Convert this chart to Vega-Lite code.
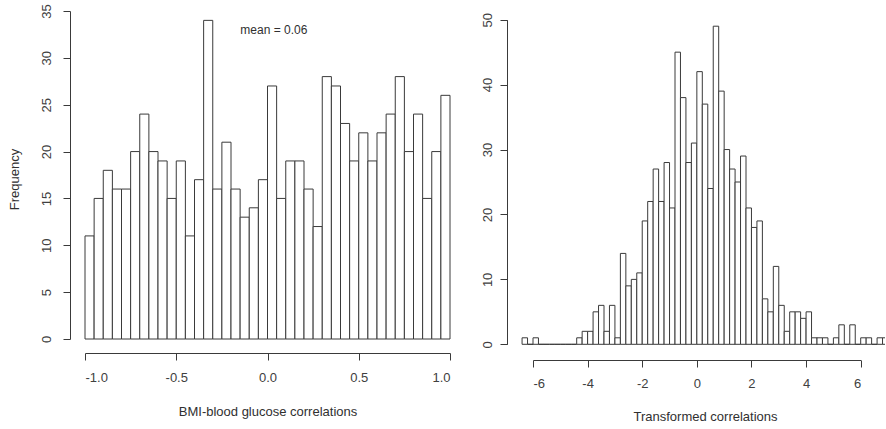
{
  "$schema": "https://vega.github.io/schema/vega-lite/v6.json",
  "usermeta": {"embedOptions": {"actions": false}},
  "padding": {"left": 8, "top": 3, "right": 0, "bottom": 0},
  "background": "white",
  "config": {
    "view": {"stroke": null},
    "font": "Liberation Sans",
    "axis": {
      "grid": false,
      "domainColor": "#3a3a3a",
      "tickColor": "#3a3a3a",
      "tickSize": 7,
      "labelColor": "#404040",
      "labelFont": "Liberation Sans",
      "labelFontSize": 13,
      "titleColor": "#303030",
      "titleFont": "Liberation Sans",
      "titleFontSize": 13,
      "titleFontWeight": "normal"
    }
  },
  "datasets": {
    "corr": [
      {"bin_start": -1.00, "bin_end": -0.95, "count": 11},
      {"bin_start": -0.95, "bin_end": -0.90, "count": 15},
      {"bin_start": -0.90, "bin_end": -0.85, "count": 18},
      {"bin_start": -0.85, "bin_end": -0.80, "count": 16},
      {"bin_start": -0.80, "bin_end": -0.75, "count": 16},
      {"bin_start": -0.75, "bin_end": -0.70, "count": 20},
      {"bin_start": -0.70, "bin_end": -0.65, "count": 24},
      {"bin_start": -0.65, "bin_end": -0.60, "count": 20},
      {"bin_start": -0.60, "bin_end": -0.55, "count": 19},
      {"bin_start": -0.55, "bin_end": -0.50, "count": 15},
      {"bin_start": -0.50, "bin_end": -0.45, "count": 19},
      {"bin_start": -0.45, "bin_end": -0.40, "count": 11},
      {"bin_start": -0.40, "bin_end": -0.35, "count": 17},
      {"bin_start": -0.35, "bin_end": -0.30, "count": 34},
      {"bin_start": -0.30, "bin_end": -0.25, "count": 16},
      {"bin_start": -0.25, "bin_end": -0.20, "count": 21},
      {"bin_start": -0.20, "bin_end": -0.15, "count": 16},
      {"bin_start": -0.15, "bin_end": -0.10, "count": 13},
      {"bin_start": -0.10, "bin_end": -0.05, "count": 14},
      {"bin_start": -0.05, "bin_end": 0.00, "count": 17},
      {"bin_start": 0.00, "bin_end": 0.05, "count": 27},
      {"bin_start": 0.05, "bin_end": 0.10, "count": 15},
      {"bin_start": 0.10, "bin_end": 0.15, "count": 19},
      {"bin_start": 0.15, "bin_end": 0.20, "count": 19},
      {"bin_start": 0.20, "bin_end": 0.25, "count": 16},
      {"bin_start": 0.25, "bin_end": 0.30, "count": 12},
      {"bin_start": 0.30, "bin_end": 0.35, "count": 28},
      {"bin_start": 0.35, "bin_end": 0.40, "count": 27},
      {"bin_start": 0.40, "bin_end": 0.45, "count": 23},
      {"bin_start": 0.45, "bin_end": 0.50, "count": 19},
      {"bin_start": 0.50, "bin_end": 0.55, "count": 22},
      {"bin_start": 0.55, "bin_end": 0.60, "count": 19},
      {"bin_start": 0.60, "bin_end": 0.65, "count": 22},
      {"bin_start": 0.65, "bin_end": 0.70, "count": 24},
      {"bin_start": 0.70, "bin_end": 0.75, "count": 28},
      {"bin_start": 0.75, "bin_end": 0.80, "count": 20},
      {"bin_start": 0.80, "bin_end": 0.85, "count": 24},
      {"bin_start": 0.85, "bin_end": 0.90, "count": 15},
      {"bin_start": 0.90, "bin_end": 0.95, "count": 20},
      {"bin_start": 0.95, "bin_end": 1.00, "count": 26}
    ],
    "note": [
      {"x": 0.035, "y": 33, "label": "mean = 0.06"}
    ],
    "transformed": [
      {"bin_start": -6.4, "bin_end": -6.2, "count": 1},
      {"bin_start": -6.2, "bin_end": -6.0, "count": 0},
      {"bin_start": -6.0, "bin_end": -5.8, "count": 1},
      {"bin_start": -5.8, "bin_end": -5.6, "count": 0},
      {"bin_start": -5.6, "bin_end": -5.4, "count": 0},
      {"bin_start": -5.4, "bin_end": -5.2, "count": 0},
      {"bin_start": -5.2, "bin_end": -5.0, "count": 0},
      {"bin_start": -5.0, "bin_end": -4.8, "count": 0},
      {"bin_start": -4.8, "bin_end": -4.6, "count": 0},
      {"bin_start": -4.6, "bin_end": -4.4, "count": 0},
      {"bin_start": -4.4, "bin_end": -4.2, "count": 1},
      {"bin_start": -4.2, "bin_end": -4.0, "count": 2},
      {"bin_start": -4.0, "bin_end": -3.8, "count": 2},
      {"bin_start": -3.8, "bin_end": -3.6, "count": 5},
      {"bin_start": -3.6, "bin_end": -3.4, "count": 6},
      {"bin_start": -3.4, "bin_end": -3.2, "count": 2},
      {"bin_start": -3.2, "bin_end": -3.0, "count": 6},
      {"bin_start": -3.0, "bin_end": -2.8, "count": 1},
      {"bin_start": -2.8, "bin_end": -2.6, "count": 14},
      {"bin_start": -2.6, "bin_end": -2.4, "count": 9},
      {"bin_start": -2.4, "bin_end": -2.2, "count": 10},
      {"bin_start": -2.2, "bin_end": -2.0, "count": 11},
      {"bin_start": -2.0, "bin_end": -1.8, "count": 19},
      {"bin_start": -1.8, "bin_end": -1.6, "count": 22},
      {"bin_start": -1.6, "bin_end": -1.4, "count": 27},
      {"bin_start": -1.4, "bin_end": -1.2, "count": 22},
      {"bin_start": -1.2, "bin_end": -1.0, "count": 28},
      {"bin_start": -1.0, "bin_end": -0.8, "count": 21},
      {"bin_start": -0.8, "bin_end": -0.6, "count": 45},
      {"bin_start": -0.6, "bin_end": -0.4, "count": 38},
      {"bin_start": -0.4, "bin_end": -0.2, "count": 28},
      {"bin_start": -0.2, "bin_end": 0.0, "count": 31},
      {"bin_start": 0.0, "bin_end": 0.2, "count": 42},
      {"bin_start": 0.2, "bin_end": 0.4, "count": 37},
      {"bin_start": 0.4, "bin_end": 0.6, "count": 24},
      {"bin_start": 0.6, "bin_end": 0.8, "count": 49},
      {"bin_start": 0.8, "bin_end": 1.0, "count": 39},
      {"bin_start": 1.0, "bin_end": 1.2, "count": 30},
      {"bin_start": 1.2, "bin_end": 1.4, "count": 27},
      {"bin_start": 1.4, "bin_end": 1.6, "count": 25},
      {"bin_start": 1.6, "bin_end": 1.8, "count": 29},
      {"bin_start": 1.8, "bin_end": 2.0, "count": 21},
      {"bin_start": 2.0, "bin_end": 2.2, "count": 18},
      {"bin_start": 2.2, "bin_end": 2.4, "count": 19},
      {"bin_start": 2.4, "bin_end": 2.6, "count": 7},
      {"bin_start": 2.6, "bin_end": 2.8, "count": 5},
      {"bin_start": 2.8, "bin_end": 3.0, "count": 12},
      {"bin_start": 3.0, "bin_end": 3.2, "count": 6},
      {"bin_start": 3.2, "bin_end": 3.4, "count": 2},
      {"bin_start": 3.4, "bin_end": 3.6, "count": 5},
      {"bin_start": 3.6, "bin_end": 3.8, "count": 5},
      {"bin_start": 3.8, "bin_end": 4.0, "count": 4},
      {"bin_start": 4.0, "bin_end": 4.2, "count": 5},
      {"bin_start": 4.2, "bin_end": 4.4, "count": 1},
      {"bin_start": 4.4, "bin_end": 4.6, "count": 1},
      {"bin_start": 4.6, "bin_end": 4.8, "count": 1},
      {"bin_start": 4.8, "bin_end": 5.0, "count": 0},
      {"bin_start": 5.0, "bin_end": 5.2, "count": 1},
      {"bin_start": 5.2, "bin_end": 5.4, "count": 3},
      {"bin_start": 5.4, "bin_end": 5.6, "count": 0},
      {"bin_start": 5.6, "bin_end": 5.8, "count": 3},
      {"bin_start": 5.8, "bin_end": 6.0, "count": 0},
      {"bin_start": 6.0, "bin_end": 6.2, "count": 1},
      {"bin_start": 6.2, "bin_end": 6.4, "count": 1},
      {"bin_start": 6.4, "bin_end": 6.6, "count": 0},
      {"bin_start": 6.6, "bin_end": 6.8, "count": 1},
      {"bin_start": 6.8, "bin_end": 7.0, "count": 1}
    ]
  },
  "hconcat": [
    {
      "width": 395,
      "height": 342,
      "layer": [
        {
          "data": {"name": "corr"},
          "mark": {"type": "rect", "fill": "white", "stroke": "#3a3a3a", "strokeWidth": 1},
          "encoding": {
            "x": {
              "field": "bin_start", "type": "quantitative",
              "scale": {"domain": [-1, 1], "range": [15, 380], "nice": false, "zero": false},
              "axis": {
                "title": "BMI-blood glucose correlations",
                "values": [-1, -0.5, 0, 0.5, 1],
                "format": ".1f",
                "labelExpr": "replace(datum.label, '\u2212', '-')",
                "labelPadding": 11,
                "titleBaseline": "alphabetic",
                "titleY": 62
              }
            },
            "x2": {"field": "bin_end"},
            "y": {
              "field": "count", "type": "quantitative",
              "scale": {"domain": [0, 35], "range": [328, 0], "nice": false},
              "axis": {
                "title": "Frequency",
                "values": [0, 5, 10, 15, 20, 25, 30, 35],
                "labelAngle": -90,
                "labelAlign": "center",
                "labelBaseline": "alphabetic",
                "labelPadding": 13,
                "titleAngle": -90,
                "titleAlign": "center",
                "titleBaseline": "alphabetic",
                "titleX": -51.5,
                "titleY": 168
              }
            },
            "y2": {"datum": 0}
          }
        },
        {
          "data": {"name": "note"},
          "mark": {"type": "text", "font": "Liberation Sans", "fontSize": 12, "color": "#303030", "align": "center", "baseline": "middle"},
          "encoding": {
            "x": {"field": "x", "type": "quantitative"},
            "y": {"field": "y", "type": "quantitative"},
            "text": {"field": "label"}
          }
        }
      ]
    },
    {
      "width": 378,
      "height": 349,
      "data": {"name": "transformed"},
      "mark": {"type": "rect", "fill": "white", "stroke": "#3a3a3a", "strokeWidth": 1, "clip": true},
      "encoding": {
        "x": {
          "field": "bin_start", "type": "quantitative",
          "scale": {"domain": [-6, 6], "range": [26, 353.7], "nice": false, "zero": false},
          "axis": {
            "title": "Transformed correlations",
            "values": [-6, -4, -2, 0, 2, 4, 6],
            "format": "d",
            "labelExpr": "replace(datum.label, '\u2212', '-')",
            "labelPadding": 10,
            "titleBaseline": "alphabetic",
            "titleX": 198,
            "titleY": 60.5
          }
        },
        "x2": {"field": "bin_end"},
        "y": {
          "field": "count", "type": "quantitative",
          "scale": {"domain": [0, 50], "range": [333.3, 8.7], "nice": false},
          "axis": {
            "title": null,
            "values": [0, 10, 20, 30, 40, 50],
            "labelAngle": -90,
            "labelAlign": "center",
            "labelBaseline": "alphabetic",
            "labelPadding": 9
          }
        },
        "y2": {"datum": 0}
      }
    }
  ],
  "spacing": 42,
  "bounds": "flush"
}
